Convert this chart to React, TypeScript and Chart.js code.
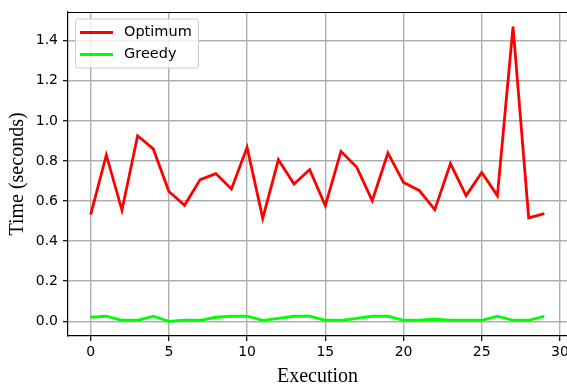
import React, { useEffect, useRef } from "react";
import { Chart, registerables } from "chart.js";

Chart.register(...registerables);

const executions: number[] = Array.from({ length: 30 }, (_, i) => i);
const optimum: number[] = [
  0.532, 0.83, 0.554, 0.926, 0.86, 0.648, 0.579, 0.707, 0.737, 0.66,
  0.868, 0.514, 0.806, 0.685, 0.757, 0.577, 0.848, 0.77, 0.602, 0.84,
  0.693, 0.653, 0.557, 0.787, 0.627, 0.743, 0.627, 1.471, 0.516, 0.537,
];
const greedy: number[] = [
  0.02, 0.025, 0.005, 0.005, 0.025, 0.0, 0.005, 0.005, 0.02, 0.025,
  0.025, 0.005, 0.015, 0.025, 0.025, 0.005, 0.005, 0.015, 0.025, 0.025,
  0.005, 0.005, 0.01, 0.005, 0.005, 0.005, 0.025, 0.005, 0.005, 0.025,
];
const xTicks: number[] = [0, 5, 10, 15, 20, 25, 30];
const yTicks: number[] = [0, 0.2, 0.4, 0.6, 0.8, 1.0, 1.2, 1.4];
const seriesNames = ["Optimum", "Greedy"];
const seriesColors = ["#ff0000", "#00ff00"];

const framePlugin = {
  id: "frameAndLegend",
  afterDatasetsDraw(chart: any) {
    const { ctx, chartArea } = chart;
    ctx.save();
    ctx.strokeStyle = "#000";
    ctx.lineWidth = 1.2;
    ctx.beginPath();
    ctx.moveTo(chartArea.left, chartArea.top + 0.5);
    ctx.lineTo(chartArea.right + 5, chartArea.top + 0.5);
    ctx.stroke();
    // legend
    const bx = chartArea.left + 7.5;
    const by = chartArea.top + 7;
    const bw = 123;
    const bh = 49;
    ctx.fillStyle = "rgba(255,255,255,0.8)";
    ctx.strokeStyle = "#cccccc";
    ctx.lineWidth = 1;
    ctx.beginPath();
    (ctx as any).roundRect(bx, by, bw, bh, 3);
    ctx.fill();
    ctx.stroke();
    ctx.font = "14.5px 'DejaVu Sans'";
    ctx.textBaseline = "middle";
    ctx.textAlign = "left";
    chart.data.datasets.forEach((ds: any, i: number) => {
      const y = by + 13.5 + i * 22;
      ctx.strokeStyle = ds.borderColor;
      ctx.lineWidth = 2.8;
      ctx.beginPath();
      ctx.moveTo(bx + 4.5, y);
      ctx.lineTo(bx + 37.5, y);
      ctx.stroke();
      ctx.fillStyle = "#000";
      ctx.fillText(ds.label, bx + 48.5, y);
    });
    ctx.restore();
  },
};

export default function App() {
  const ref = useRef<HTMLCanvasElement>(null);
  useEffect(() => {
    if (!ref.current) return;
    const tickFont = { family: "'DejaVu Sans'", size: 14 };
    const chart = new Chart(ref.current, {
      type: "line",
      data: {
        datasets: [optimum, greedy].map((vals, s) => ({
          label: seriesNames[s],
          data: executions.map((x, i) => ({ x, y: vals[i] })),
          borderColor: seriesColors[s],
          backgroundColor: seriesColors[s],
          borderWidth: 2.8,
          pointRadius: 0,
          tension: 0,
        })),
      },
      options: {
        responsive: false,
        animation: false,
        layout: { padding: { top: 12, left: 0, right: 0, bottom: 0 } },
        plugins: { legend: { display: false }, tooltip: { enabled: false } },
        scales: {
          x: {
            type: "linear",
            min: -1.45,
            max: 30.45,
            afterBuildTicks: (scale: any) => {
              scale.ticks = xTicks.map((v) => ({ value: v }));
            },
            afterFit: (scale: any) => {
              scale.height = 49;
              scale.paddingLeft = 0;
              scale.paddingRight = 0;
            },
            ticks: {
              autoSkip: false,
              maxRotation: 0,
              color: "#000",
              font: tickFont,
              padding: 3,
              callback: (v: any) => String(v),
            },
            grid: {
              color: "#b0b0b0",
              lineWidth: 1.4,
              tickColor: "#000",
              tickLength: 5,
              tickWidth: 1.2,
            },
            border: { color: "#000", width: 1.2 },
            title: {
              display: true,
              text: "Execution",
              color: "#000",
              font: { family: "'Liberation Serif'", size: 20, lineHeight: 0.8 },
              padding: { top: 0, bottom: 0 },
            },
          },
          y: {
            type: "linear",
            min: -0.0735,
            max: 1.5435,
            afterBuildTicks: (scale: any) => {
              scale.ticks = yTicks.map((v) => ({ value: v }));
            },
            afterFit: (scale: any) => {
              scale.width = 68;
              scale.paddingTop = 0;
              scale.paddingBottom = 0;
            },
            ticks: {
              autoSkip: false,
              color: "#000",
              font: tickFont,
              padding: 5,
              callback: (v: any) => Number(v).toFixed(1),
            },
            grid: {
              color: "#b0b0b0",
              lineWidth: 1.4,
              tickColor: "#000",
              tickLength: 5,
              tickWidth: 1.2,
            },
            border: { color: "#000", width: 1.2 },
            title: {
              display: true,
              text: "Time (seconds)",
              color: "#000",
              font: { family: "'Liberation Serif'", size: 20, lineHeight: 1.2 },
              padding: { top: 6, bottom: 0 },
            },
          },
        },
      },
      plugins: [framePlugin],
    });
    return () => chart.destroy();
  }, []);
  return (
    <div style={{ position: "fixed", left: 0, top: 0, width: 567, height: 385, background: "#fff" }}>
      <canvas ref={ref} width={567} height={385} style={{ display: "block" }} />
    </div>
  );
}
